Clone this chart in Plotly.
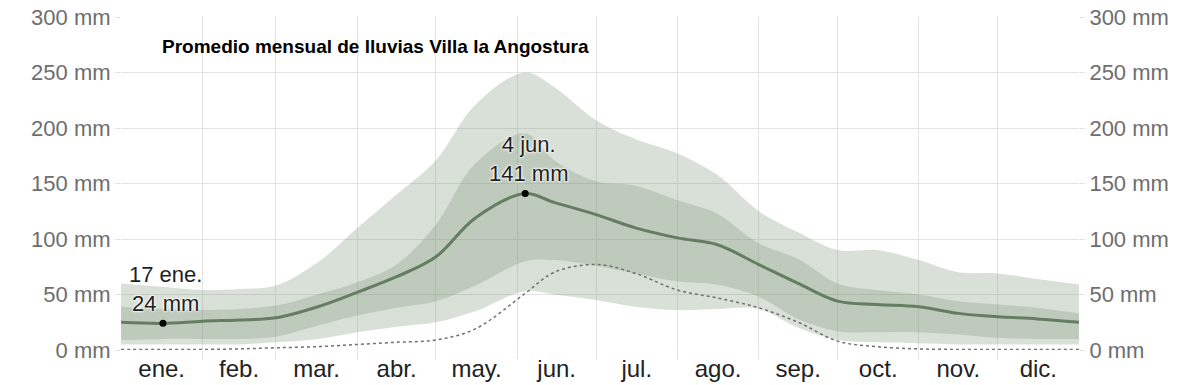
import plotly.graph_objects as go

# ---- data (day of year, mm) ----
days = [0, 16, 31, 45, 59, 75, 90, 105, 120, 135, 154, 165, 181, 196, 212, 227, 243, 258, 273, 288, 304, 319, 334, 349, 365]
rain_mean = [25, 24, 26, 27, 29, 39, 52, 66, 84, 119, 141, 133, 122, 110, 101, 95, 77, 60, 44, 41, 39, 33, 30, 28, 25]
p25 = [9, 10, 10, 10, 12, 22, 31, 38, 44, 58, 80, 81, 76, 69, 62, 59, 48, 28, 17, 16, 16, 14, 11, 10, 10]
p75 = [39, 37, 36, 37, 40, 50, 61, 77, 113, 168, 195, 171, 152, 148, 135, 123, 96, 82, 60, 54, 50, 44, 41, 38, 33]
p10 = [5, 5, 5, 5, 7, 10, 16, 21, 25, 35, 53, 50, 45, 39, 36, 37, 37, 20, 9, 7, 6, 5, 5, 5, 5]
p90 = [60, 57, 54, 55, 58, 79, 110, 140, 171, 221, 250, 237, 207, 190, 177, 158, 125, 106, 90, 90, 81, 70, 69, 64, 59]
snow_liquid = [0.5, 0.5, 0.5, 1, 2, 3, 5, 7, 9, 19, 51, 70, 77, 69, 54, 47, 38, 25, 8, 3, 1, 0.5, 0.5, 0.5, 0.5]

month_labels = ["ene.", "feb.", "mar.", "abr.", "may.", "jun.", "jul.", "ago.", "sep.", "oct.", "nov.", "dic."]
month_starts = [0, 31, 59, 90, 120, 151, 181, 212, 243, 273, 304, 334, 365]
y_ticks = [0, 50, 100, 150, 200, 250, 300]
title_text = "Promedio mensual de lluvias Villa la Angostura"

month_mid = [(month_starts[i] + month_starts[i + 1]) / 2 for i in range(12)]
inner_bounds = month_starts[1:-1]

FONT = "Liberation Sans, Arial, sans-serif"
GRID = "#e3e3e3"
LIGHT = "rgba(118,145,112,0.28)"
DARK = "rgba(118,145,112,0.27)"
LINE = "#657d62"

fig = go.Figure()
spl = dict(shape="spline", smoothing=1.0)

fig.add_trace(go.Scatter(x=days, y=p10, mode="lines", line=dict(width=0, **spl), hoverinfo="skip", showlegend=False))
fig.add_trace(go.Scatter(x=days, y=p90, mode="lines", line=dict(width=0, **spl), fill="tonexty", fillcolor=LIGHT, hoverinfo="skip", showlegend=False))
fig.add_trace(go.Scatter(x=days, y=p25, mode="lines", line=dict(width=0, **spl), hoverinfo="skip", showlegend=False))
fig.add_trace(go.Scatter(x=days, y=p75, mode="lines", line=dict(width=0, **spl), fill="tonexty", fillcolor=DARK, hoverinfo="skip", showlegend=False))
fig.add_trace(go.Scatter(x=days, y=snow_liquid, mode="lines", line=dict(color="#707070", width=1.5, dash="dot", **spl), showlegend=False))
fig.add_trace(go.Scatter(x=days, y=rain_mean, mode="lines", line=dict(color=LINE, width=3, **spl), showlegend=False))

# min / max markers
i_min = rain_mean.index(min(rain_mean))
i_max = rain_mean.index(max(rain_mean))
fig.add_trace(go.Scatter(x=[days[i_min], days[i_max]], y=[rain_mean[i_min], rain_mean[i_max]], mode="markers",
                         marker=dict(color="black", size=7), showlegend=False))
# invisible trace for right axis
fig.add_trace(go.Scatter(x=days, y=rain_mean, mode="lines", line=dict(width=0), opacity=0, yaxis="y2", hoverinfo="skip", showlegend=False))


def day_label(d):
    for i in range(12):
        if month_starts[i] <= d < month_starts[i + 1]:
            return f"{d - month_starts[i] + 1} {month_labels[i]}"
    return ""


halo = "0px 0px 3px #ffffff, 0px 0px 3px #ffffff, 0px 0px 2px #ffffff"
for i in (i_min, i_max):
    fig.add_annotation(x=days[i], y=rain_mean[i], text=f"{day_label(days[i])}<br>{rain_mean[i]} mm",
                       showarrow=False, xanchor="center", yanchor="bottom", yshift=5, xshift=3,
                       font=dict(family=FONT, size=22, color="#1f1f1f", shadow=halo))

fig.add_annotation(xref="paper", yref="paper", x=(160 - 121) / 958, y=(350 - 46) / 333, text=f"<b>{title_text}</b>",
                   showarrow=False, xanchor="left", yanchor="middle",
                   font=dict(family=FONT, size=19, color="#000000"))

yax = dict(range=[0, 300], tickvals=y_ticks, ticktext=[f"{v} mm" for v in y_ticks], automargin=False,
           showgrid=True, gridcolor=GRID, gridwidth=1, zeroline=False, ticks="outside", ticklen=5,
           tickcolor=GRID, tickfont=dict(family=FONT, size=22, color="#6e6e6e"), fixedrange=True,
           ticklabeloverflow="allow")

# the page body adds an 8px offset; figure size and margins compensate for it
fig.update_layout(
    width=1184, height=377,
    margin=dict(l=113, r=113, t=9, b=35, autoexpand=False),
    paper_bgcolor="white", plot_bgcolor="white",
    xaxis=dict(range=[0, 365], tickvals=month_mid, ticktext=month_labels, showgrid=False, zeroline=False,
               ticks="", ticklabelstandoff=2, automargin=False, ticklabeloverflow="allow",
               tickfont=dict(family=FONT, size=24, color="#222222"),
               minor=dict(tickvals=inner_bounds, showgrid=True, gridcolor=GRID, gridwidth=1,
                          ticks="outside", ticklen=8, tickcolor=GRID),
               showline=False),
    yaxis=yax,
    yaxis2=dict(yax, overlaying="y", side="right", showgrid=False),
    showlegend=False,
)

fig.write_html("out.html")
